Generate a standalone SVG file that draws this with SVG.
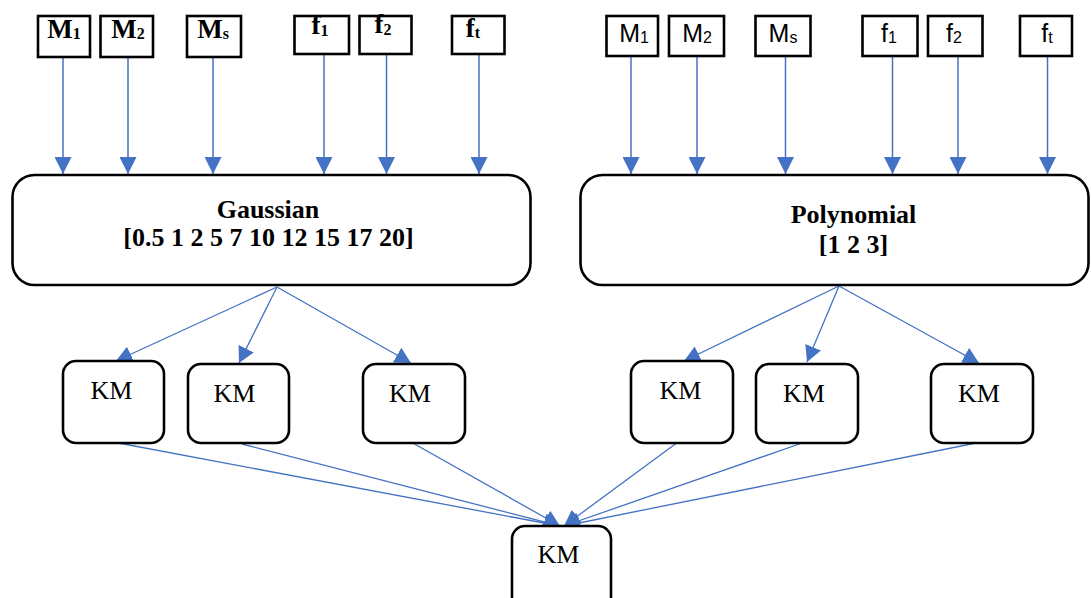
<svg xmlns="http://www.w3.org/2000/svg" width="1091" height="598" viewBox="0 0 1091 598">
<defs>
<style>
.sb{fill:#fff;stroke:#000;stroke-width:2.6}
.bb{fill:#fff;stroke:#000;stroke-width:2.6}
.km{fill:#fff;stroke:#000;stroke-width:2.6}
.tl{font-family:"Liberation Serif","Times New Roman",serif;font-weight:bold;font-size:26px;fill:#000;text-anchor:middle}
.tt{font-size:27px}
.tr{font-family:"Liberation Sans",Arial,sans-serif;font-size:25px;fill:#000;text-anchor:middle}
.sub{font-size:16px}
.kt{font-family:"Liberation Serif","Times New Roman",serif;font-size:26px;fill:#000;text-anchor:middle}
.ar{stroke:#4472C4;fill:none;stroke-width:1.5;marker-end:url(#ah)}
.af{stroke:#4472C4;fill:none;stroke-width:1.3;marker-end:url(#ah2)}
</style>
<marker id="ah" markerUnits="userSpaceOnUse" markerWidth="17" markerHeight="17" refX="17" refY="8.5" orient="auto"><path d="M0,0 L17,8.5 L0,17 z" fill="#4472C4"/></marker>
<marker id="ah2" markerUnits="userSpaceOnUse" markerWidth="16" markerHeight="17" refX="16" refY="8.5" orient="auto"><path d="M0,0 L16,8.5 L0,17 z" fill="#4472C4"/></marker>
</defs>

<g id="connectors">
<line class="ar" x1="63" y1="57" x2="63" y2="174"/>
<line class="ar" x1="128" y1="57" x2="128" y2="174"/>
<line class="ar" x1="213" y1="57" x2="213" y2="174"/>
<line class="ar" x1="324" y1="54" x2="324" y2="174"/>
<line class="ar" x1="386.5" y1="54" x2="386.5" y2="174"/>
<line class="ar" x1="479" y1="54" x2="479" y2="174"/>
<line class="ar" x1="631" y1="56" x2="631" y2="174"/>
<line class="ar" x1="697" y1="56" x2="697" y2="174"/>
<line class="ar" x1="785.5" y1="56" x2="785.5" y2="174"/>
<line class="ar" x1="892.5" y1="56" x2="892.5" y2="174"/>
<line class="ar" x1="958" y1="56" x2="958" y2="174"/>
<line class="ar" x1="1047.5" y1="56" x2="1047.5" y2="174"/>
<line class="af" x1="277" y1="287" x2="116" y2="361"/>
<line class="af" x1="277" y1="287" x2="239" y2="363"/>
<line class="af" x1="277" y1="287" x2="411" y2="363"/>
<line class="af" x1="839" y1="286" x2="684" y2="361"/>
<line class="af" x1="839" y1="286" x2="807" y2="362"/>
<line class="af" x1="839" y1="286" x2="979" y2="363"/>
<line class="af" x1="113" y1="442" x2="560" y2="526"/>
<line class="af" x1="242" y1="444" x2="560" y2="526"/>
<line class="af" x1="411" y1="442" x2="560" y2="526"/>
<line class="af" x1="678" y1="442" x2="564" y2="526"/>
<line class="af" x1="805" y1="442" x2="564" y2="526"/>
<line class="af" x1="981" y1="442" x2="564" y2="526"/>
</g>

<g id="g-m1"><rect class="sb" x="38" y="16" width="52" height="41"/><text class="tl tt" x="64" y="38">M<tspan class="sub" dy="1">1</tspan></text></g>
<g id="g-m2"><rect class="sb" x="100.5" y="16" width="52.5" height="41"/><text class="tl tt" x="128" y="38">M<tspan class="sub" dy="1">2</tspan></text></g>
<g id="g-ms"><rect class="sb" x="187" y="16" width="54" height="41"/><text class="tl tt" x="213" y="38">M<tspan class="sub" dy="1">s</tspan></text></g>
<g id="g-f1"><rect class="sb" x="294.5" y="16" width="54.5" height="38"/><text class="tl tt" x="320" y="34">f<tspan class="sub" dy="2">1</tspan></text></g>
<g id="g-f2"><rect class="sb" x="359.5" y="16" width="52" height="38"/><text class="tl tt" x="383" y="33">f<tspan class="sub" dy="2">2</tspan></text></g>
<g id="g-ft"><rect class="sb" x="452" y="16" width="52.5" height="38"/><text class="tl tt" x="473" y="37">f<tspan class="sub" dy="1">t</tspan></text></g>

<g id="p-m1"><rect class="sb" x="606.5" y="16" width="51.5" height="40"/><text class="tr" x="634" y="42">M<tspan class="sub" dy="1">1</tspan></text></g>
<g id="p-m2"><rect class="sb" x="669" y="16" width="55" height="40"/><text class="tr" x="697" y="42">M<tspan class="sub" dy="1">2</tspan></text></g>
<g id="p-ms"><rect class="sb" x="755.5" y="16" width="55" height="40"/><text class="tr" x="783" y="42">M<tspan class="sub" dy="1">s</tspan></text></g>
<g id="p-f1"><rect class="sb" x="862.5" y="16" width="55" height="40"/><text class="tr" x="889" y="42">f<tspan class="sub" dy="1">1</tspan></text></g>
<g id="p-f2"><rect class="sb" x="928" y="16" width="54.5" height="40"/><text class="tr" x="954" y="42">f<tspan class="sub" dy="1">2</tspan></text></g>
<g id="p-ft"><rect class="sb" x="1020" y="16" width="52" height="40"/><text class="tr" x="1047" y="42">f<tspan class="sub" dy="1">t</tspan></text></g>

<g id="gaussian"><rect class="bb" x="12.5" y="175" width="518" height="110" rx="22"/><text class="tl" x="268" y="218">Gaussian</text><text class="tl" x="268.5" y="246">[0.5 1 2 5 7 10 12 15 17 20]</text></g>
<g id="polynomial"><rect class="bb" x="580.5" y="175" width="508" height="110" rx="22"/><text class="tl" x="853.5" y="223">Polynomial</text><text class="tl" x="853.5" y="253">[1 2 3]</text></g>

<g id="km1"><rect class="km" x="63" y="361" width="101" height="82" rx="13"/><text class="kt" x="111.5" y="399">KM</text></g>
<g id="km2"><rect class="km" x="188" y="364" width="101" height="79" rx="13"/><text class="kt" x="234.5" y="402">KM</text></g>
<g id="km3"><rect class="km" x="363" y="364" width="102" height="79" rx="13"/><text class="kt" x="410" y="402">KM</text></g>
<g id="km4"><rect class="km" x="631" y="361" width="102" height="82" rx="13"/><text class="kt" x="680.5" y="399">KM</text></g>
<g id="km5"><rect class="km" x="756" y="364" width="102" height="79" rx="13"/><text class="kt" x="804" y="402">KM</text></g>
<g id="km6"><rect class="km" x="931" y="364" width="102" height="79" rx="13"/><text class="kt" x="979" y="402">KM</text></g>
<g id="km-final"><rect class="km" x="512" y="526" width="99" height="86" rx="13"/><text class="kt" x="558.5" y="563">KM</text></g>
</svg>
